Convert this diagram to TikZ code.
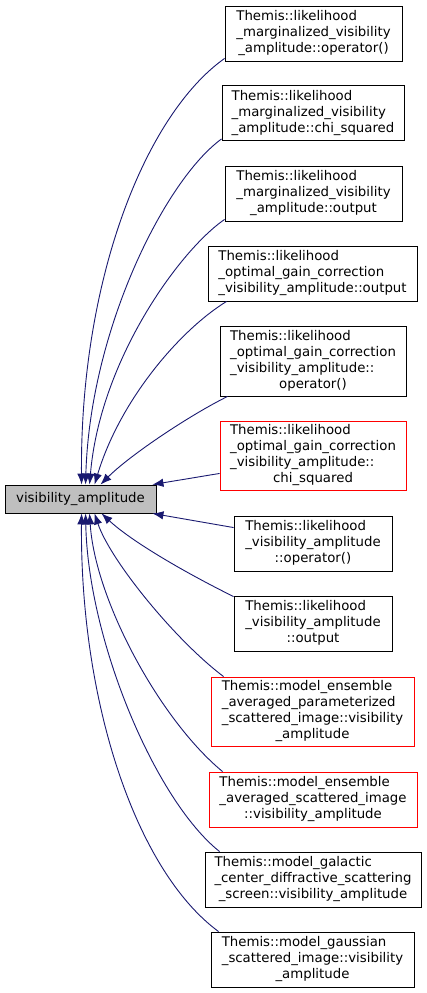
\documentclass[tikz,border=0pt]{standalone}
\usepackage{fontspec}
\setmainfont{DejaVu Sans}
\usepackage{tikz}
\usetikzlibrary{calc,arrows.meta}
\definecolor{edgeblue}{HTML}{191970}
\definecolor{mainfill}{HTML}{BFBFBF}
\newcommand{\dfont}{\fontsize{13.3}{16}\selectfont}
\newcommand{\dlbl}[2]{\begin{tabular}{@{}l@{}}#1\\\multicolumn{1}{@{}c@{}}{#2}\end{tabular}}
\tikzset{
  fnode/.style={draw=black, line width=0.9pt, fill=white, inner sep=0pt, align=center,
    font=\dfont, minimum height=55pt},
  rnode/.style={fnode, draw=red},
  mainnode/.style={fnode, fill=mainfill, minimum width=151pt, minimum height=28pt},
  arr/.style={-{Latex[length=11pt,width=8.5pt,fill=edgeblue]}, draw=edgeblue, line width=0.9pt}
}

\begin{document}
\begin{tikzpicture}[x=1pt, y=-1pt]
  \useasboundingbox (0,0) rectangle (427,993);

  \node[mainnode] (va) at (80.5,499) {visibility\_amplitude};

  \node[fnode, minimum width=177pt] (c1) at (313.5,33.5)
    {\dlbl{Themis::likelihood\\\_marginalized\_visibility}{\_amplitude::operator()}};
  \node[fnode, minimum width=182pt] (c2) at (313,113)
    {\dlbl{Themis::likelihood\\\_marginalized\_visibility}{\_amplitude::chi\_squared}};
  \node[fnode, minimum width=177pt] (c3) at (313.5,193.5)
    {\dlbl{Themis::likelihood\\\_marginalized\_visibility}{\_amplitude::output}};
  \node[fnode, minimum width=209pt] (c4) at (312.5,273.5)
    {\dlbl{Themis::likelihood\\\_optimal\_gain\_correction}{\_visibility\_amplitude::output}};
  \node[fnode, minimum width=186pt, minimum height=70pt] (c5) at (313,361)
    {\dlbl{Themis::likelihood\\\_optimal\_gain\_correction\\\_visibility\_amplitude::}{operator()}};
  \node[rnode, minimum width=186pt, minimum height=69pt] (c6) at (313,455.5)
    {\dlbl{Themis::likelihood\\\_optimal\_gain\_correction\\\_visibility\_amplitude::}{chi\_squared}};
  \node[fnode, minimum width=158pt] (c7) at (313,543.5)
    {\dlbl{Themis::likelihood\\\_visibility\_amplitude}{::operator()}};
  \node[fnode, minimum width=158pt] (c8) at (313,623.5)
    {\dlbl{Themis::likelihood\\\_visibility\_amplitude}{::output}};
  \node[rnode, minimum width=203pt, minimum height=69pt] (c9) at (312.5,711.5)
    {\dlbl{Themis::model\_ensemble\\\_averaged\_parameterized\\\_scattered\_image::visibility}{\_amplitude}};
  \node[rnode, minimum width=208pt] (c10) at (313,799.5)
    {\dlbl{Themis::model\_ensemble\\\_averaged\_scattered\_image}{::visibility\_amplitude}};
  \node[fnode, minimum width=216pt] (c11) at (313,879.5)
    {\dlbl{Themis::model\_galactic\\\_center\_diffractive\_scattering}{\_screen::visibility\_amplitude}};
  \node[fnode, minimum width=203pt] (c12) at (312.5,959.5)
    {\dlbl{Themis::model\_gaussian\\\_scattered\_image::visibility}{\_amplitude}};

  \draw[arr] ([yshift=3pt]c1.south west) .. controls (145,115) and (80,280) .. ([xshift=77pt]va.north west);
  \draw[arr] ([yshift=2pt]c2.south west) .. controls (165,180) and (90,330) .. ([xshift=81pt]va.north west);
  \draw[arr] ([yshift=2pt]c3.south west) .. controls (180,250) and (100,360) .. ([xshift=85pt]va.north west);
  \draw[arr] ([xshift=19pt]c4.south west) .. controls (180,330) and (120,400) .. ([xshift=90pt]va.north west);
  \draw[arr] ([xshift=8pt]c5.south west) .. controls (190,415) and (130,455) .. ([xshift=96pt]va.north west);
  \draw[arr] ([yshift=17pt]c6.south west) -- ([xshift=-4pt]va.north east);
  \draw[arr] ([yshift=-12pt]c7.north west) -- ([xshift=-4pt]va.south east);
  \draw[arr] ([yshift=-1pt]c8.north west) .. controls (180,570) and (130,540) .. ([xshift=97pt]va.south west);
  \draw[arr] ([xshift=13pt]c9.north west) .. controls (175,640) and (110,560) .. ([xshift=90pt]va.south west);
  \draw[arr] ([xshift=14pt]c10.north west) .. controls (160,720) and (95,600) .. ([xshift=85pt]va.south west);
  \draw[arr] ([xshift=15pt]c11.north west) .. controls (155,800) and (88,640) .. ([xshift=81pt]va.south west);
  \draw[arr] ([xshift=8pt]c12.north west) .. controls (135,870) and (80,700) .. ([xshift=77pt]va.south west);
\end{tikzpicture}
\end{document}
